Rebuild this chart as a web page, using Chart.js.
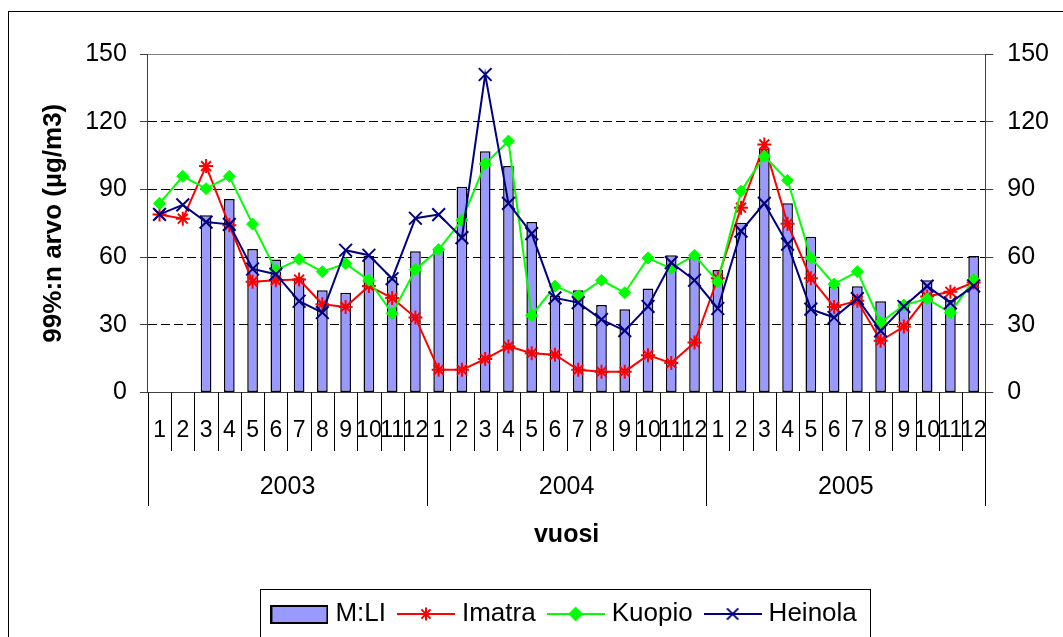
<!DOCTYPE html>
<html>
<head>
<meta charset="utf-8">
<script src="https://cdn.jsdelivr.net/npm/chart.js@4.4.1/dist/chart.umd.min.js"></script>
<style>
html,body{margin:0;padding:0;background:#fff;}
#wrap{width:1063px;height:637px;position:relative;}
</style>
</head>
<body>
<div id="wrap"><canvas id="c" width="1063" height="637"></canvas></div>
<script>
// ---- data ----
const monthLabels = ['1','2','3','4','5','6','7','8','9','10','11','12',
                     '1','2','3','4','5','6','7','8','9','10','11','12',
                     '1','2','3','4','5','6','7','8','9','10','11','12'];
const yearLabels = ['2003','2004','2005'];
const yMin = 0, yMax = 150, yStep = 30;

const mliValues = [null, null, 78.5, 85.7, 63.6, 58.9, 50.6, 45.3, 44.2, 60.5, 51.3, 62.6,
                   63.1, 91.2, 106.9, 100.4, 75.5, 43, 45.3, 38.7, 36.9, 46, 60.8, 60,
                   54.3, 75.2, 108, 83.8, 69, 47, 47.1, 40.4, 40.4, 49.7, 41, 60.5];
const imatraValues = [78.9, 77, 100.3, 74.1, 49.1, 49.7, 50, 39.1, 37.9, 47.2, 41.8, 33.2,
                      10, 10, 14.8, 20.4, 17.4, 16.7, 10, 9.2, 9.2, 16.5, 13, 22.1,
                      50.6, 81.9, 109.9, 74.8, 50.6, 37.9, 40.6, 22.9, 29.2, 42.5, 44.6, 48.7];
const kuopioValues = [83.8, 95.8, 90.3, 95.8, 74.6, 54.2, 59, 53.5, 57.1, 49.7, 35, 54.4,
                      63.3, 76.4, 101.3, 111.4, 34.1, 47.1, 42.8, 49.7, 44.2, 59.6, 54.9, 60.8,
                      49.1, 89.2, 104.7, 94, 59.7, 48, 53.5, 31, 38.7, 41.5, 35.3, 49.9];
const heinolaValues = [78.9, 83.1, 75.5, 74.5, 54.7, 52.4, 40.4, 35.4, 63, 60.8, 50.4, 77.2,
                       78.8, 68.6, 140.9, 83.8, 70.4, 41.9, 39.8, 32.3, 27.4, 38.1, 57.5, 49.7,
                       37.2, 71.5, 83.8, 65.7, 36.9, 33.2, 41.6, 27.3, 38.1, 47.1, 39.7, 47.2];
const seriesNames = ['M:LI', 'Imatra', 'Kuopio', 'Heinola'];

// ---- styles ----
const FONT = "'Liberation Sans', Arial, sans-serif";
Chart.defaults.font.family = FONT;
Chart.defaults.color = '#000';

function barSymbol() {
  const c = document.createElement('canvas');
  c.width = 58; c.height = 20;
  const g = c.getContext('2d');
  g.fillStyle = '#9999FF';
  g.fillRect(1, 2, 56, 17);
  g.strokeStyle = '#000';
  g.lineWidth = 2;
  g.strokeRect(1, 2, 56, 17);
  return c;
}
function lineSymbol(color, style, r) {
  const c = document.createElement('canvas');
  c.width = 58; c.height = 20;
  const g = c.getContext('2d');
  g.strokeStyle = color;
  g.fillStyle = color;
  g.lineWidth = 2;
  g.beginPath(); g.moveTo(0, 10); g.lineTo(58, 10); g.stroke();
  Chart.helpers.drawPoint(g, {pointStyle: style, radius: r, borderWidth: 2, rotation: 0}, 29, 10);
  return c;
}
const legendSymbols = [
  barSymbol(),
  lineSymbol('#FF0000', 'star', 6.5),
  lineSymbol('#00FF00', 'rectRot', 6),
  lineSymbol('#000080', 'crossRot', 8)
];

const framePlugin = {
  id: 'frame',
  afterLayout(chart) {
    // centre the legend under the plot area
    const lg = chart.legend, ca = chart.chartArea;
    if (!lg) return;
    const shift = (ca.left + ca.right) / 2 - (lg.left + lg.right) / 2;
    lg.left += shift; lg.right += shift;
  },
  beforeDraw(chart) {
    const ctx = chart.ctx;
    ctx.save();
    ctx.fillStyle = '#fff';
    ctx.fillRect(0, 0, chart.width, chart.height);
    ctx.strokeStyle = '#000';
    ctx.lineWidth = 1;
    ctx.strokeRect(8.5, 11.5, 1200, 800);
    ctx.restore();
  },
  beforeDatasetsDraw(chart) {
    // category separators of the two-level axis
    const xs = chart.scales.x, x2 = chart.scales.x2;
    const ctx = chart.ctx;
    const top = xs.top;
    const monthEnd = xs.bottom - 17;
    const yearEnd = x2.top + 38;
    const per = monthLabels.length / yearLabels.length;
    ctx.save();
    ctx.strokeStyle = '#000';
    ctx.lineWidth = 1;
    ctx.beginPath();
    for (let i = 0; i <= monthLabels.length; i++) {
      const px = Math.round(xs.getPixelForValue(i - 0.5)) + 0.5;
      ctx.moveTo(px, top);
      ctx.lineTo(px, i % per === 0 ? yearEnd : monthEnd);
    }
    ctx.stroke();
    ctx.restore();
  },
  afterDraw(chart) {
    const lg = chart.legend;
    if (!lg || !lg.legendHitBoxes || !lg.legendHitBoxes.length) return;
    const hb = lg.legendHitBoxes;
    let l = Infinity, r = -Infinity;
    hb.forEach(b => { l = Math.min(l, b.left); r = Math.max(r, b.left + b.width); });
    const cy = hb[0].top + 13;
    const ctx = chart.ctx;
    ctx.save();
    ctx.strokeStyle = '#000';
    ctx.lineWidth = 1;
    ctx.strokeRect(Math.round(l - 16) + 0.5, Math.round(cy - 25) + 0.5, Math.round(r - l + 30), 50);
    ctx.restore();
  }
};

const isInnerGrid = (ctx) => ctx.tick && ctx.tick.value > yMin && ctx.tick.value < yMax;

new Chart(document.getElementById('c'), {
  data: {
    labels: monthLabels,
    datasets: [
      {
        type: 'bar', label: seriesNames[0], data: mliValues, order: 4,
        backgroundColor: '#9999FF', borderColor: '#000', borderWidth: 1.5,
        borderSkipped: false, barPercentage: 0.46, categoryPercentage: 1.0
      },
      {
        type: 'line', label: seriesNames[1], data: imatraValues, order: 3,
        borderColor: '#FF0000', backgroundColor: '#FF0000', borderWidth: 2,
        pointStyle: 'star', pointRadius: 7, pointBorderWidth: 2,
        pointBorderColor: '#FF0000', pointBackgroundColor: '#FF0000', tension: 0
      },
      {
        type: 'line', label: seriesNames[2], data: kuopioValues, order: 2,
        borderColor: '#00FF00', backgroundColor: '#00FF00', borderWidth: 2,
        pointStyle: 'rectRot', pointRadius: 6, pointBorderWidth: 1,
        pointBorderColor: '#00FF00', pointBackgroundColor: '#00FF00', tension: 0
      },
      {
        type: 'line', label: seriesNames[3], data: heinolaValues, order: 1,
        borderColor: '#000080', backgroundColor: '#000080', borderWidth: 2,
        pointStyle: 'crossRot', pointRadius: 9, pointBorderWidth: 2,
        pointBorderColor: '#000080', pointBackgroundColor: '#000080', tension: 0
      }
    ]
  },
  options: {
    responsive: false,
    animation: false,
    devicePixelRatio: 1,
    events: [],
    layout: { padding: { top: 54, left: 38, right: 0, bottom: 0 } },
    plugins: {
      tooltip: { enabled: false },
      legend: {
        display: true,
        position: 'bottom',
        labels: {
          usePointStyle: true,
          pointStyleWidth: 46,
          boxWidth: 46,
          padding: 17,
          color: '#000',
          font: { size: 26, family: FONT },
          generateLabels: (chart) => chart.data.datasets.map((ds, i) => ({
            text: ds.label,
            pointStyle: legendSymbols[i],
            datasetIndex: i,
            hidden: false,
            fillStyle: 'rgba(0,0,0,0)',
            strokeStyle: 'rgba(0,0,0,0)',
            lineWidth: 0,
            fontColor: '#000'
          }))
        }
      }
    },
    scales: {
      x: {
        type: 'category',
        position: 'bottom',
        offset: true,
        weight: 0,
        grid: { offset: true, drawOnChartArea: false, drawTicks: false },
        border: { display: true, color: '#404040', width: 1 },
        ticks: { autoSkip: false, maxRotation: 0, minRotation: 0, padding: 24, color: '#000', font: { size: 23 } }
      },
      x2: {
        type: 'category',
        labels: yearLabels,
        position: 'bottom',
        offset: true,
        weight: 1,
        grid: { display: false, drawTicks: false },
        border: { display: false },
        ticks: { autoSkip: false, maxRotation: 0, minRotation: 0, padding: 4, color: '#000', font: { size: 25 } },
        title: { display: true, text: 'vuosi', color: '#000', font: { size: 25, weight: 'bold' }, padding: { top: 14, bottom: 34 } }
      },
      y: {
        type: 'linear',
        position: 'left',
        min: yMin, max: yMax,
        ticks: { stepSize: yStep, padding: 13, color: '#000', font: { size: 25 } },
        grid: {
          color: (ctx) => (ctx.tick && ctx.tick.value === yMax) ? '#808080' : '#000',
          lineWidth: 1, tickLength: 8, tickColor: '#404040', tickWidth: 1
        },
        border: { display: true, color: '#404040', width: 1, dash: (ctx) => isInnerGrid(ctx) ? [9, 4] : [] },
        title: { display: true, text: '99%:n arvo (µg/m3)', color: '#000', font: { size: 26, weight: 'bold' }, padding: { top: 0, bottom: 3 } }
      },
      y2: {
        type: 'linear',
        position: 'right',
        min: yMin, max: yMax,
        ticks: { stepSize: yStep, padding: 14, color: '#000', font: { size: 25 } },
        grid: { drawOnChartArea: false, tickLength: 8, tickColor: '#404040', tickWidth: 1 },
        border: { display: true, color: '#404040', width: 1 }
      }
    }
  },
  plugins: [framePlugin]
});
</script>
</body>
</html>
